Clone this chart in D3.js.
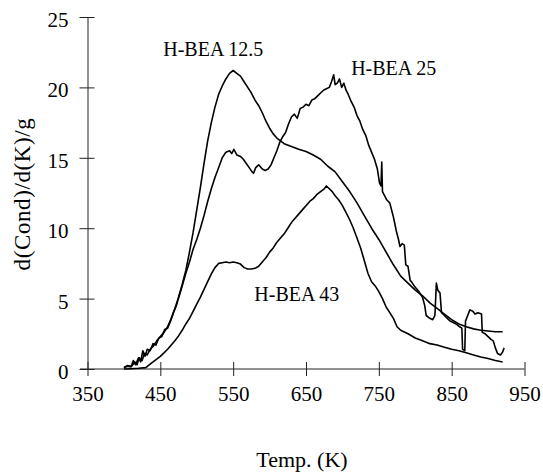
<!DOCTYPE html>
<html>
<head>
<meta charset="utf-8">
<script src="https://cdn.jsdelivr.net/npm/d3@7"></script>
<style>
  body { margin: 0; background: #fff; }
  svg text { font-family: "Liberation Serif", "DejaVu Serif", serif; fill: #000; }
</style>
</head>
<body>
<div id="chart"></div>
<script>
const width = 543;
const height = 473;

const xTicks = [350, 450, 550, 650, 750, 850, 950];
const yTicks = [0, 5, 10, 15, 20, 25];

// [temperature K, d(Cond)/d(K)/g]
const hbea125 = [
  [400, 0.1], [405, 0.2], [410, 0.15], [415, 0.5], [418, 0.3], [421, 0.8], [425, 0.6], [428, 1.1],
  [432, 1.0], [436, 1.4], [440, 1.6], [445, 2.0], [450, 2.3], [455, 2.6], [460, 3.0], [465, 3.6],
  [470, 4.3], [475, 5.1], [480, 6.0], [485, 7.0], [490, 8.3], [495, 9.7], [500, 11.3], [505, 12.9],
  [510, 14.6], [515, 16.2], [520, 17.5], [525, 18.6], [530, 19.5], [535, 20.1], [540, 20.6], [545, 21.0],
  [550, 21.2], [555, 21.0], [560, 20.8], [565, 20.4], [570, 20.0], [575, 19.6], [580, 19.1], [585, 18.7],
  [590, 18.2], [595, 17.6], [600, 17.1], [605, 16.7], [610, 16.4], [615, 16.2], [620, 16.0], [630, 15.8],
  [640, 15.6], [650, 15.45], [660, 15.2], [670, 14.9], [680, 14.4], [690, 14.0], [700, 13.3], [710, 12.6],
  [720, 11.8], [730, 10.9], [740, 10.0], [750, 9.2], [760, 8.3], [770, 7.4], [780, 6.6], [790, 6.1],
  [800, 5.6], [810, 5.2], [820, 4.7], [830, 4.3], [840, 3.9], [850, 3.5], [860, 3.2], [870, 3.0],
  [880, 2.85], [890, 2.75], [900, 2.7], [910, 2.65], [920, 2.65]
];

const hbea25 = [
  [400, 0.1], [405, 0.25], [410, 0.2], [413, 0.6], [416, 0.3], [420, 0.8], [423, 0.5], [426, 1.3],
  [429, 0.9], [432, 1.4], [436, 1.3], [440, 1.8], [444, 1.7], [448, 2.2], [452, 2.3], [456, 2.8],
  [460, 2.9], [464, 3.4], [468, 4.0], [472, 4.5], [476, 5.2], [480, 5.9], [485, 6.8], [490, 7.6],
  [495, 8.5], [500, 9.2], [505, 10.0], [510, 10.9], [515, 11.9], [520, 12.8], [525, 13.6], [530, 14.3],
  [535, 15.0], [540, 15.4], [545, 15.5], [548, 15.3], [551, 15.6], [555, 15.2], [560, 15.1], [564, 14.9],
  [568, 14.6], [572, 14.3], [576, 14.0], [578, 13.9], [581, 14.3], [585, 14.5], [590, 14.2], [594, 14.1],
  [598, 14.2], [602, 14.5], [606, 15.0], [610, 15.5], [614, 16.1], [618, 16.5], [622, 16.8], [626, 17.4],
  [630, 17.9], [634, 18.1], [638, 17.8], [642, 18.5], [646, 18.6], [650, 18.8], [654, 18.7], [658, 19.1],
  [662, 19.2], [666, 19.4], [670, 19.6], [674, 19.8], [678, 19.9], [682, 20.0], [685, 20.4], [688, 20.9],
  [690, 20.2], [693, 20.3], [696, 20.6], [699, 20.0], [702, 20.3], [705, 19.8], [708, 19.5], [712, 19.0],
  [716, 18.6], [720, 18.0], [724, 17.6], [728, 17.0], [732, 16.6], [736, 15.9], [740, 15.4], [744, 14.9],
  [748, 14.2], [751, 13.2], [753, 13.0], [754, 14.7], [755, 12.6], [758, 12.3], [761, 12.0], [765, 11.8],
  [770, 10.8], [774, 9.8], [777, 9.2], [779, 8.7], [782, 8.9], [785, 8.8], [787, 7.4], [790, 7.3],
  [793, 6.3], [796, 6.1], [800, 5.8], [805, 5.5], [810, 5.1], [813, 4.5], [815, 3.8], [820, 3.6],
  [824, 3.5], [827, 3.8], [829, 6.1], [831, 5.6], [834, 5.4], [836, 4.0], [840, 3.8], [844, 3.6],
  [848, 3.4], [852, 3.3], [856, 3.2], [861, 3.0], [864, 2.9], [865, 1.4], [868, 1.3], [869, 3.4],
  [872, 3.8], [875, 4.2], [879, 4.1], [882, 3.9], [886, 4.0], [891, 3.9], [892, 2.6], [896, 2.5],
  [900, 2.3], [904, 2.1], [907, 2.0], [910, 1.5], [913, 1.1], [917, 1.0], [920, 1.2], [922, 1.5]
];

const hbea43 = [
  [400, 0.0], [410, 0.02], [420, 0.05], [430, 0.1], [436, 0.35], [440, 0.5], [445, 0.7], [450, 0.9],
  [455, 1.15], [460, 1.4], [465, 1.7], [470, 2.0], [475, 2.35], [480, 2.75], [485, 3.2], [490, 3.6],
  [495, 4.1], [500, 4.6], [505, 5.1], [510, 5.65], [515, 6.2], [520, 6.75], [525, 7.2], [530, 7.5],
  [535, 7.55], [540, 7.6], [545, 7.55], [550, 7.6], [555, 7.55], [560, 7.45], [565, 7.2], [570, 7.1],
  [575, 7.1], [580, 7.15], [585, 7.3], [590, 7.6], [595, 7.9], [600, 8.3], [605, 8.6], [610, 9.0],
  [615, 9.3], [620, 9.6], [625, 10.0], [630, 10.4], [635, 10.7], [640, 11.0], [645, 11.3], [650, 11.6],
  [655, 11.9], [660, 12.1], [665, 12.4], [670, 12.6], [675, 12.8], [678, 13.0], [682, 12.8], [686, 12.6],
  [690, 12.3], [695, 12.0], [700, 11.6], [705, 11.1], [710, 10.6], [715, 10.0], [720, 9.3], [725, 8.6],
  [730, 7.7], [735, 6.8], [740, 6.2], [745, 5.9], [750, 5.5], [755, 5.0], [760, 4.4], [765, 4.0],
  [770, 3.6], [775, 3.0], [780, 2.75], [790, 2.5], [800, 2.2], [810, 2.0], [820, 1.8], [830, 1.7],
  [840, 1.55], [850, 1.4], [860, 1.3], [870, 1.15], [880, 1.0], [890, 0.85], [900, 0.75], [910, 0.6],
  [920, 0.5]
];

const seriesLabels = [
  { text: "H-BEA 12.5", t: 454, v: 22.2 },
  { text: "H-BEA 25", t: 712, v: 20.9 },
  { text: "H-BEA 43", t: 579, v: 4.8 }
];

const svg = d3.select("#chart").append("svg")
  .attr("width", width)
  .attr("height", height);

const x = d3.scaleLinear().domain([350, 950]).range([87.5, 524.5]);
const y = d3.scaleLinear().domain([0, 25]).range([369, 17]);

// x axis, ticks cross the line
const xAxis = svg.append("g")
  .attr("transform", `translate(0,${y(0)})`)
  .call(d3.axisBottom(x).tickValues(xTicks).tickSize(0).tickPadding(32).tickFormat(d3.format("d")));
xAxis.attr("font-family", null);
xAxis.select(".domain").attr("stroke", "#222").attr("d", `M80,0H${x(950)}`);
xAxis.selectAll(".tick line").attr("y1", -7).attr("y2", 7).attr("stroke", "#222");
xAxis.selectAll(".tick text")
  .attr("font-size", 21)
  .attr("dy", 0);

// y axis
const yAxis = svg.append("g")
  .attr("transform", `translate(${x(350)},0)`)
  .call(d3.axisLeft(y).tickValues(yTicks).tickSize(0).tickPadding(19));
yAxis.attr("font-family", null);
yAxis.select(".domain").attr("stroke", "#222");
yAxis.selectAll(".tick line").attr("x1", -8).attr("x2", 7).attr("stroke", "#222");
yAxis.selectAll(".tick text")
  .attr("font-size", 21)
  .attr("dy", "0.45em");

const line = d3.line()
  .x(d => x(d[0]))
  .y(d => y(d[1]));

[hbea125, hbea25, hbea43].forEach(s => {
  svg.append("path")
    .datum(s)
    .attr("fill", "none")
    .attr("stroke", "#000")
    .attr("stroke-width", 1.6)
    .attr("stroke-linejoin", "round")
    .attr("d", line);
});

svg.selectAll(".series-label")
  .data(seriesLabels)
  .enter()
  .append("text")
  .attr("class", "series-label")
  .attr("x", d => x(d.t))
  .attr("y", d => y(d.v))
  .attr("font-size", 20)
  .text(d => d.text);

svg.append("text")
  .attr("x", (x(350) + x(950)) / 2 - 4)
  .attr("y", 467)
  .attr("text-anchor", "middle")
  .attr("font-size", 22)
  .text("Temp. (K)");

svg.append("text")
  .attr("transform", "translate(30,194) rotate(-90)")
  .attr("text-anchor", "middle")
  .attr("font-size", 23)
  .attr("letter-spacing", 0.6)
  .text("d(Cond)/d(K)/g");
</script>
</body>
</html>
